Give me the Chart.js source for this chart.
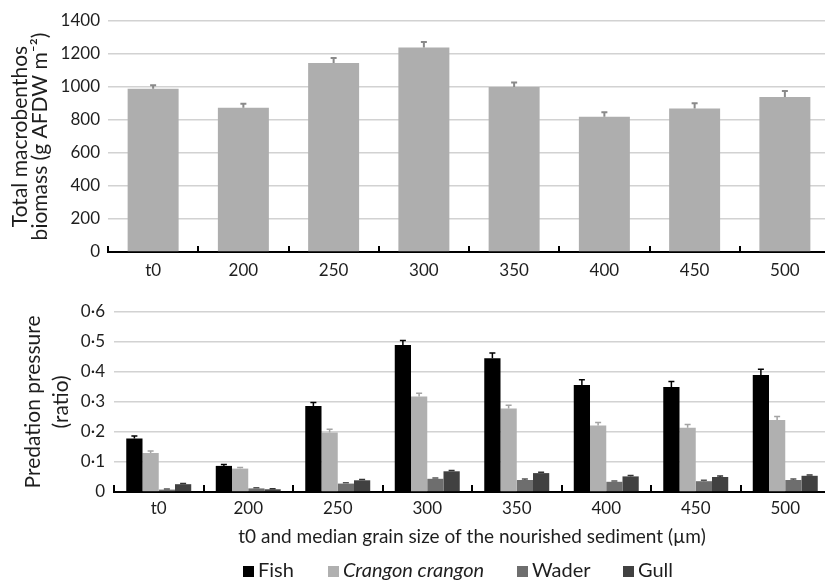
<!DOCTYPE html>
<html>
<head>
<meta charset="utf-8">
<script src="https://cdn.jsdelivr.net/npm/chart.js@4/dist/chart.umd.min.js"></script>
<style>
  html, body { margin: 0; padding: 0; background: #fff; overflow: hidden; width: 825px; height: 580px; }
  .panel { position: absolute; left: 0; width: 832px; height: 290px; }
  #legend { position: absolute; left: 0; top: 558px; width: 825px; height: 24px; font-family: Lato, "Open Sans", sans-serif; font-size: 20px; color: #1e1e1e; }
  #legend .item { position: absolute; top: 0; white-space: nowrap; line-height: 22px; }
  #legend .sw { display: inline-block; width: 11px; height: 11px; margin-right: 4px; vertical-align: 0px; }
</style>
</head>
<body>
<div class="panel" style="top:0"><canvas id="biomassChart"></canvas></div>
<div class="panel" style="top:290px"><canvas id="predationChart"></canvas></div>
<div id="legend"></div>
<script>
// Sampling stations: t0 and median grain size of the nourished sediment (µm)
const categories = ['t0', '200', '250', '300', '350', '400', '450', '500'];

// Total macrobenthos biomass (g AFDW m-2) with upper error
const biomass    = [990, 875, 1145, 1240, 1000, 820, 870, 940];
const biomassErr = [21, 24, 31, 33, 28, 27, 31, 36];

// Predation pressure (ratio) per predator group
const fish       = [0.178, 0.087, 0.287, 0.490, 0.446, 0.357, 0.350, 0.390];
const fishErr    = [0.009, 0.005, 0.011, 0.015, 0.017, 0.017, 0.018, 0.019];
const crangon    = [0.130, 0.078, 0.198, 0.318, 0.278, 0.222, 0.214, 0.240];
const crangonErr = [0.007, 0.004, 0.011, 0.011, 0.011, 0.010, 0.011, 0.012];
const wader      = [0.008, 0.012, 0.028, 0.044, 0.040, 0.034, 0.036, 0.040];
const waderErr   = [0.002, 0.002, 0.003, 0.003, 0.003, 0.003, 0.003, 0.003];
const gull       = [0.026, 0.009, 0.039, 0.069, 0.063, 0.052, 0.050, 0.054];
const gullErr    = [0.002, 0.002, 0.003, 0.003, 0.003, 0.003, 0.003, 0.003];

const seriesNames = ['Fish', 'Crangon crangon', 'Wader', 'Gull'];
const seriesColors = ['#000000', '#b0b0b0', '#6e6e6e', '#414141'];
const errorColors  = ['#000000', '#a4a4a4', '#555555', '#333333'];

const FONT = 'Lato, "Open Sans", sans-serif';
const TEXT = '#1e1e1e';
const GRID = '#d2d2d2';

// Upper error whiskers with a small cap, placed through the value scale
const errorBars = {
  id: 'errorBars',
  afterDatasetsDraw(chart) {
    const { ctx } = chart;
    const yScale = chart.scales.y;
    chart.data.datasets.forEach((ds, di) => {
      if (!ds.errors) return;
      const meta = chart.getDatasetMeta(di);
      ctx.save();
      ctx.strokeStyle = ds.errorColor;
      ctx.lineWidth = ds.errorWidth || 1.5;
      meta.data.forEach((bar, i) => {
        const v = ds.data[i];
        const top = yScale.getPixelForValue(v + ds.errors[i]);
        const half = ds.capHalf || 3;
        ctx.beginPath();
        ctx.moveTo(bar.x, bar.y);
        ctx.lineTo(bar.x, top);
        ctx.moveTo(bar.x - half, top);
        ctx.lineTo(bar.x + half, top);
        ctx.stroke();
      });
      ctx.restore();
    });
  }
};

// Category separators on the axis line, pointing up into the plot
const innerTicks = {
  id: 'innerTicks',
  afterDraw(chart, args, opts) {
    const { ctx } = chart;
    const x = chart.scales.x;
    const y0 = chart.chartArea.bottom;
    const step = x.getPixelForValue(1) - x.getPixelForValue(0);
    ctx.save();
    ctx.strokeStyle = '#000';
    ctx.lineWidth = 2;
    ctx.beginPath();
    for (let i = 0; i <= categories.length; i++) {
      const px = Math.round(x.getPixelForValue(i) - step / 2);
      ctx.moveTo(px, y0);
      ctx.lineTo(px, y0 - opts.length);
    }
    ctx.stroke();
    ctx.restore();
  }
};

function yGrid() {
  return {
    color: c => (c.tick && c.tick.value === 0) ? 'rgba(0,0,0,0)' : GRID,
    lineWidth: 1.6,
    drawTicks: false
  };
}

new Chart(document.getElementById('biomassChart'), {
  type: 'bar',
  data: {
    labels: categories,
    datasets: [{
      data: biomass,
      backgroundColor: '#aeaeae',
      errors: biomassErr,
      errorColor: '#8a8a8a',
      errorWidth: 2,
      capHalf: 3,
      categoryPercentage: 1,
      barPercentage: 0.565
    }]
  },
  options: {
    responsive: true,
    maintainAspectRatio: false,
    animation: false,
    layout: { padding: { top: 21, right: 2, bottom: 8, left: 0 } },
    plugins: { legend: { display: false }, tooltip: { enabled: false }, innerTicks: { length: 6 } },
    scales: {
      x: {
        grid: { display: false, drawTicks: false },
        border: { display: true, color: '#000', width: 2 },
        ticks: { color: TEXT, font: { family: FONT, size: 17 }, padding: 8, maxRotation: 0 },
        afterFit: s => { s.height = 30; }
      },
      y: {
        min: 0, max: 1400,
        ticks: { stepSize: 200, color: TEXT, font: { family: FONT, size: 17 }, padding: 8, callback: v => String(v) },
        grid: yGrid(),
        border: { display: false },
        title: {
          display: true,
          text: ['Total macrobenthos', 'biomass (g AFDW m\u207B\u00B2)'],
          color: TEXT,
          font: { family: FONT, size: 21, lineHeight: '20px' },
          padding: { top: 10, bottom: 0 }
        },
        afterFit: s => { s.width = 108; }
      }
    }
  },
  plugins: [errorBars, innerTicks]
});

const groups = [fish, crangon, wader, gull];
const groupErrs = [fishErr, crangonErr, waderErr, gullErr];

new Chart(document.getElementById('predationChart'), {
  type: 'bar',
  data: {
    labels: categories,
    datasets: groups.map((vals, k) => ({
      label: seriesNames[k],
      data: vals,
      backgroundColor: seriesColors[k],
      errors: groupErrs[k],
      errorColor: errorColors[k],
      errorWidth: 1.5,
      capHalf: 3,
      categoryPercentage: 0.726,
      barPercentage: 1
    }))
  },
  options: {
    responsive: true,
    maintainAspectRatio: false,
    animation: false,
    layout: { padding: { top: 22, right: 2, bottom: 32, left: 0 } },
    plugins: { legend: { display: false }, tooltip: { enabled: false }, innerTicks: { length: 7 } },
    scales: {
      x: {
        grid: { display: false, drawTicks: false },
        border: { display: true, color: '#000', width: 2 },
        ticks: { color: TEXT, font: { family: FONT, size: 17 }, padding: 6, maxRotation: 0 },
        title: {
          display: true,
          text: 't0 and median grain size of the nourished sediment (\u00B5m)',
          color: TEXT,
          font: { family: FONT, size: 19 },
          padding: { top: 0, bottom: 0 }
        },
        afterFit: s => { s.height = 56; }
      },
      y: {
        min: 0, max: 0.6,
        ticks: {
          stepSize: 0.1,
          color: TEXT,
          font: { family: FONT, size: 17 },
          padding: 9,
          callback: v => v === 0 ? '0' : v.toFixed(1).replace('.', '\u00B7')
        },
        grid: yGrid(),
        border: { display: false },
        title: {
          display: true,
          text: ['Predation pressure', '(ratio)'],
          color: TEXT,
          font: { family: FONT, size: 21, lineHeight: '28px' },
          padding: { top: 19, bottom: 0 }
        },
        afterFit: s => { s.width = 114; }
      }
    }
  },
  plugins: [errorBars, innerTicks]
});

// Legend for the predator groups
const legendX = [243, 328, 517, 623];
const legend = document.getElementById('legend');
seriesNames.forEach((name, k) => {
  const item = document.createElement('span');
  item.className = 'item';
  item.style.left = legendX[k] + 'px';
  const sw = document.createElement('span');
  sw.className = 'sw';
  sw.style.background = seriesColors[k];
  const label = document.createElement('span');
  label.textContent = name;
  if (k === 1) label.style.fontStyle = 'italic';
  item.appendChild(sw);
  item.appendChild(label);
  legend.appendChild(item);
});
</script>
</body>
</html>
